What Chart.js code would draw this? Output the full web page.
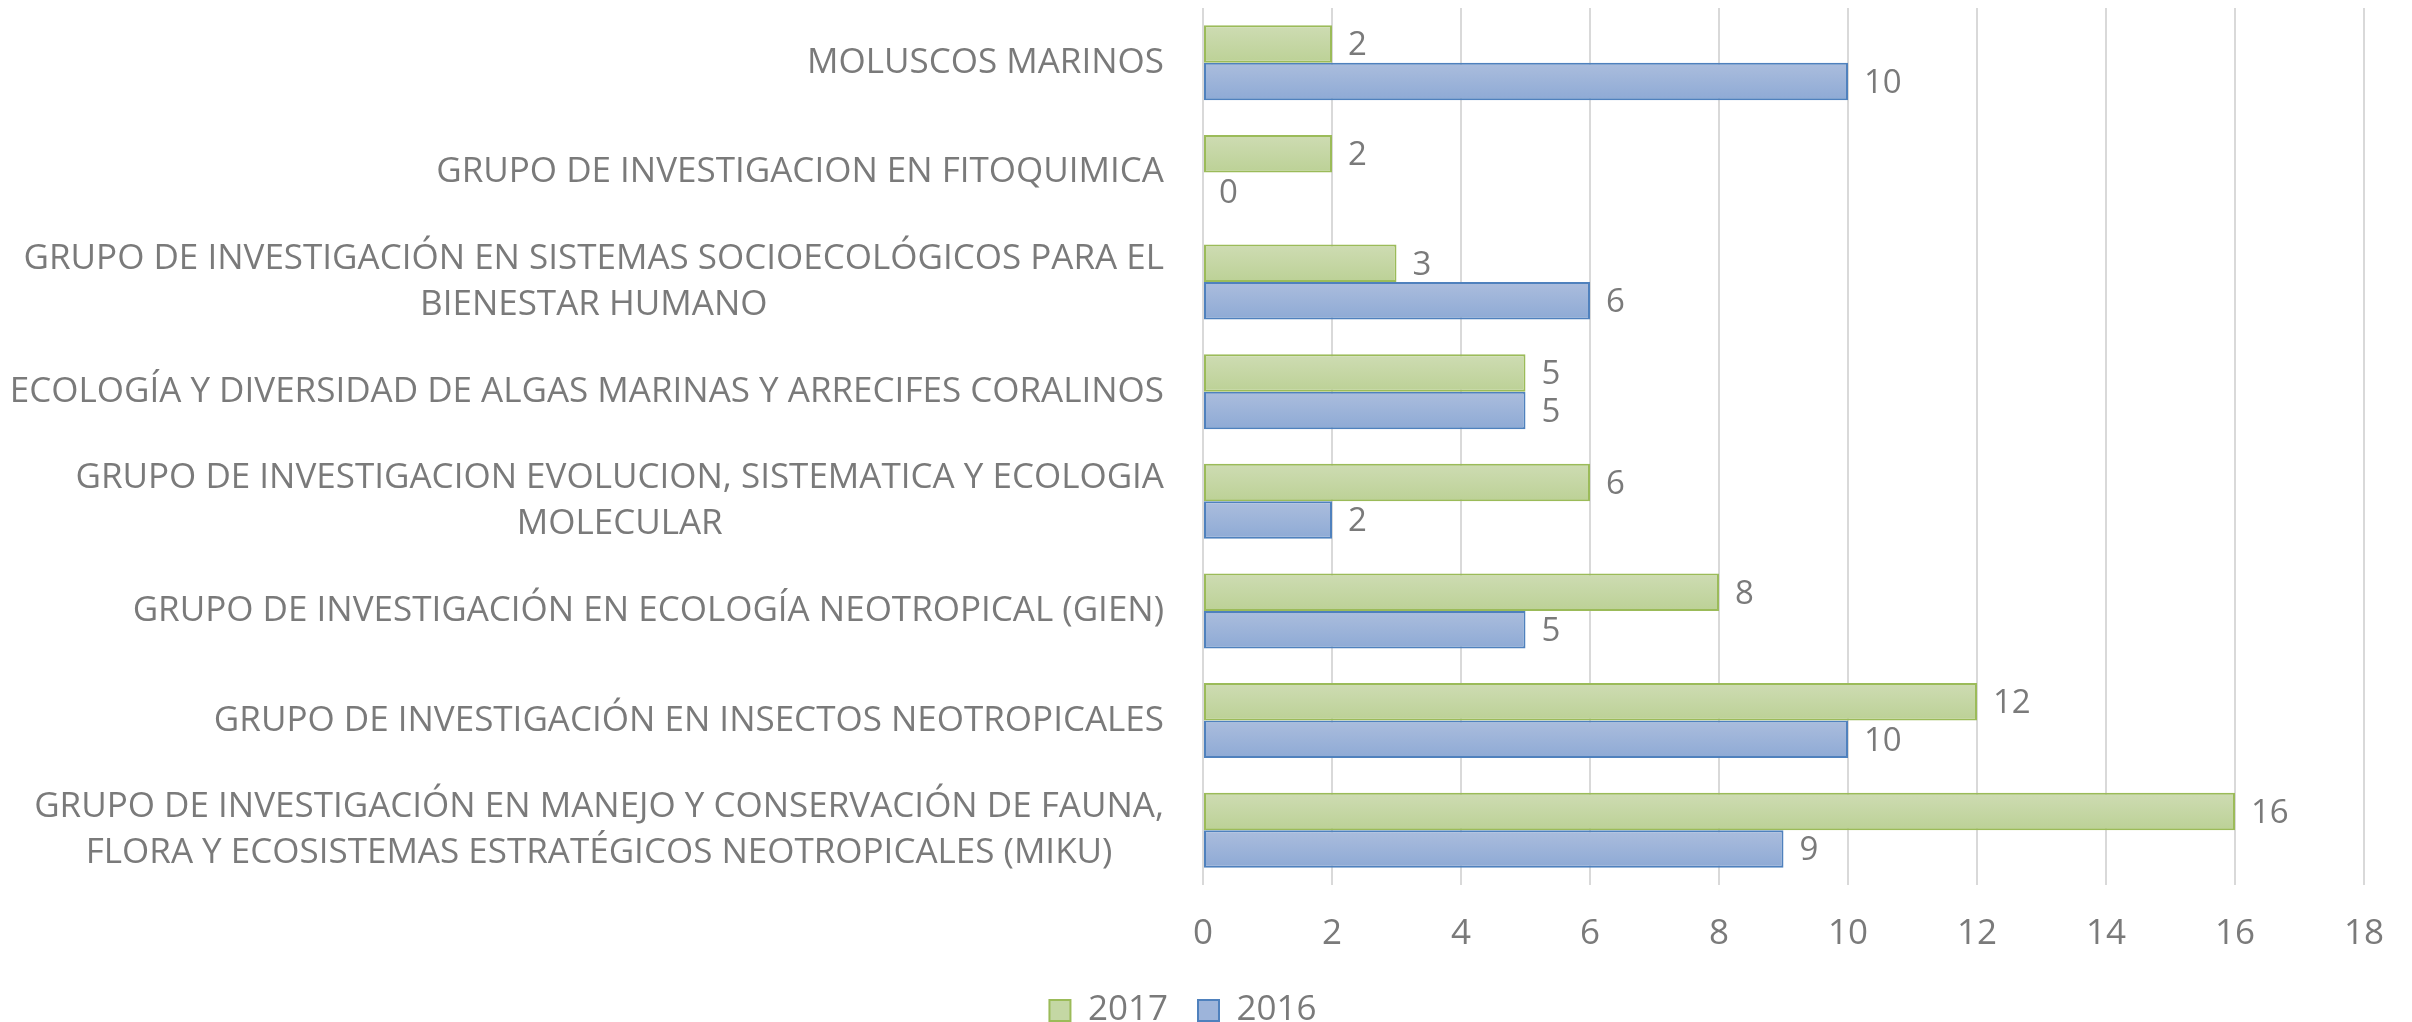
<!DOCTYPE html>
<html>
<head>
<meta charset="utf-8">
<script src="https://cdn.jsdelivr.net/npm/chart.js@4.4.1/dist/chart.umd.min.js"></script>
<style>
  html, body { margin: 0; padding: 0; background: #fff; }
  #wrap { width: 2412px; height: 1022px; position: relative; }
</style>
</head>
<body>
<div id="wrap"><canvas id="groupsChart"></canvas></div>
<script>
const groupLabels = [
    ['MOLUSCOS MARINOS '],
    ['GRUPO DE INVESTIGACION EN FITOQUIMICA'],
    ['GRUPO DE INVESTIGACIÓN EN SISTEMAS SOCIOECOLÓGICOS PARA EL', 'BIENESTAR HUMANO'],
    ['ECOLOGÍA Y DIVERSIDAD DE ALGAS MARINAS Y ARRECIFES CORALINOS'],
    ['GRUPO DE INVESTIGACION EVOLUCION, SISTEMATICA Y ECOLOGIA ', 'MOLECULAR'],
    ['GRUPO DE INVESTIGACIÓN EN ECOLOGÍA NEOTROPICAL (GIEN)'],
    ['GRUPO DE INVESTIGACIÓN EN INSECTOS NEOTROPICALES'],
    ['GRUPO DE INVESTIGACIÓN EN MANEJO Y CONSERVACIÓN DE FAUNA,', 'FLORA Y ECOSISTEMAS ESTRATÉGICOS NEOTROPICALES (MIKU)']
];
const values2017 = [2, 2, 3, 5, 6, 8, 12, 16];
const values2016 = [10, 0, 6, 5, 2, 5, 10, 9];

const FONT_FAMILY = '"Open Sans", "Noto Sans", sans-serif';
const LABEL_FONT = '35px ' + FONT_FAMILY;
const TEXT_COLOR = '#7a7a7a';

Chart.defaults.font.family = FONT_FAMILY;

// etiquetas del eje Y: líneas centradas entre sí, bloque alineado a la derecha
const yLabelPlugin = {
    id: 'yLabels',
    afterDraw(chart) {
        const scale = chart.scales.y;
        const ctx = chart.ctx;
        const right = chart.chartArea.left - 39;
        const lineH = 46;
        ctx.save();
        ctx.font = LABEL_FONT;
        ctx.fillStyle = TEXT_COLOR;
        ctx.textAlign = 'center';
        ctx.textBaseline = 'middle';
        groupLabels.forEach((lines, i) => {
            const y = scale.getPixelForTick(i);
            const w = Math.max(...lines.map(l => ctx.measureText(l.trimEnd()).width));
            const cx = right - w / 2;
            lines.forEach((l, j) => {
                ctx.fillText(l.trimEnd(), cx, y + (j - (lines.length - 1) / 2) * lineH);
            });
        });
        ctx.restore();
    }
};

// degradado vertical en cada barra + valores
const barStylePlugin = {
    id: 'barStyle',
    beforeDatasetsDraw(chart) {
        const ctx = chart.ctx;
        const stops = [['#cedcb3', '#bcd196'], ['#abbddd', '#8eaad5']];
        chart.data.datasets.forEach((ds, di) => {
            chart.getDatasetMeta(di).data.forEach(el => {
                const g = ctx.createLinearGradient(0, el.y - el.height / 2, 0, el.y + el.height / 2);
                g.addColorStop(0, stops[di][0]);
                g.addColorStop(1, stops[di][1]);
                el.options = Object.assign({}, el.options, {backgroundColor: g});
            });
        });
    },
    afterDatasetsDraw(chart) {
        const ctx = chart.ctx;
        ctx.save();
        ctx.font = '33px ' + FONT_FAMILY;
        ctx.fillStyle = TEXT_COLOR;
        ctx.textAlign = 'left';
        ctx.textBaseline = 'middle';
        chart.data.datasets.forEach((ds, di) => {
            chart.getDatasetMeta(di).data.forEach((el, i) => {
                ctx.fillText(String(ds.data[i]), el.x + 16, el.y + 2);
            });
        });
        ctx.restore();
    }
};

new Chart(document.getElementById('groupsChart'), {
    type: 'bar',
    data: {
        labels: groupLabels,
        datasets: [{
            label: '2017',
            data: values2017,
            backgroundColor: '#c4d7a4',
            borderColor: '#9bbb59',
            borderWidth: 2,
            borderSkipped: false,
        }, {
            label: '2016',
            data: values2016,
            backgroundColor: '#9db4da',
            borderColor: '#4f81bd',
            borderWidth: 2,
            borderSkipped: false,
        }]
    },
    options: {
        indexAxis: 'y',
        responsive: true,
        maintainAspectRatio: false,
        animation: false,
        categoryPercentage: 0.684,
        barPercentage: 1,
        layout: {
            padding: {top: 8, right: 46, bottom: -16, left: 0}
        },
        scales: {
            x: {
                min: 0,
                max: 18,
                afterFit(scale) { scale.height = 78; },
                ticks: {
                    stepSize: 2,
                    color: TEXT_COLOR,
                    padding: 28,
                    font: {size: 35}
                },
                grid: {color: '#d9d9d9', lineWidth: 2, drawTicks: false},
                border: {display: false}
            },
            y: {
                afterFit(scale) { scale.width = 1203; },
                ticks: {display: false},
                grid: {display: false},
                border: {display: false}
            }
        },
        plugins: {
            legend: {
                position: 'bottom',
                labels: {
                    color: TEXT_COLOR,
                    boxWidth: 21,
                    boxHeight: 21,
                    padding: 30,
                    font: {size: 35}
                }
            },
            tooltip: {enabled: false}
        }
    },
    plugins: [yLabelPlugin, barStylePlugin]
});
</script>
</body>
</html>
